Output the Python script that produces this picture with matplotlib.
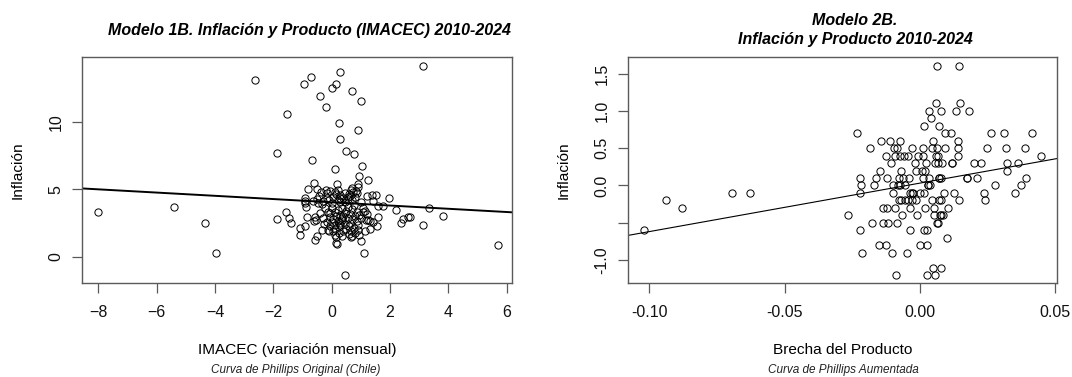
import matplotlib
matplotlib.use("Agg")
import matplotlib.pyplot as plt

plt.rcParams["font.family"] = ["Liberation Sans", "DejaVu Sans"]

# Modelo 1B: IMACEC (variación mensual) vs inflación
imacec = [
    -8.02, -5.42, -4.35, -3.97, -2.64, -1.89, -1.86, -1.52, -1.55, -1.46,
    -1.38, -1.09, -1.08, -0.95, -0.71, -0.90, -0.88, -0.84, -0.90, -0.82,
    -0.67, -0.61, -0.41, -0.21, 0.00, 0.15, 0.30, 0.25, 0.28, 0.10,
    0.50, 0.69, 1.00, 0.89, 0.76, 1.04, 0.93, 1.26, 3.14, 5.69,
    0.45, 1.10, 1.00, 0.17, 0.15, -0.56, -0.52, -0.32, -0.11, 1.97,
    2.22, 2.38, 2.45, 2.60, 2.68, 3.12, 3.35, 3.80, 1.59, 1.75,
    1.60, 1.55, 1.21, 1.38, 1.52, 1.18, 1.24, 1.13, 1.40, 1.31,
    1.14, 0.89, 0.83, 0.90, 0.74, -0.51, -0.37, -0.17, -0.06, 0.17,
    0.23, -0.92, -0.92, -0.51, -0.46, -0.29, -0.17, 0.05, 0.00, 0.28,
    0.40, -0.57, -0.54, -0.23, -0.12, -0.06, -0.17, 0.00, 0.11, -0.12,
    0.11, 0.13, 0.28, 0.28, 0.36, 0.60, 0.65, 0.70, 0.62, -0.20,
    0.11, 0.28, 0.46, 0.57, 1.43, 1.08, 1.06, 0.00, 0.11, 0.20,
    0.35, 0.50, 0.62, 0.70, 0.85, 0.95, 0.40, 0.55, 0.70, 0.85,
    0.30, 0.45, 0.60, 0.75, 0.50, 0.65, 0.80, 0.60, 0.70, 0.90,
    0.25, 0.40, 0.35, 0.15, 0.05, -0.05, 0.20, 0.45, 0.55, 0.70,
    0.80, 1.00, -0.30, -0.25, -0.40, 0.10, 0.25, -0.05, 0.90, 1.00,
    0.80, 0.55, 0.30, -0.45, -0.65, 0.95, 0.65, 0.35, -0.60, -0.35,
    0.15, 0.75, 1.20, 0.45, 0.20, -0.10, 0.62, 0.85, 1.30, 0.05,
]
inflacion_1 = [
    3.36, 3.68, 2.54, 0.27, 13.10, 7.70, 2.84, 10.57, 3.33, 2.89,
    2.54, 2.12, 1.63, 12.80, 13.36, 2.27, 3.68, 2.99, 4.12, 5.04,
    7.21, 5.51, 11.95, 11.11, 12.49, 12.80, 13.73, 9.95, 8.74, 6.54,
    7.83, 12.32, 11.53, 9.41, 7.63, 6.74, 6.00, 5.68, 14.15, 0.89,
    -1.31, 0.27, 1.16, 0.94, 1.48, 1.28, 1.53, 2.00, 1.90, 4.40,
    3.48, 2.52, 2.84, 2.99, 2.99, 2.40, 3.60, 3.06, 3.80, 3.80,
    2.96, 2.30, 4.54, 4.59, 4.57, 2.74, 2.74, 3.43, 2.57, 2.07,
    1.93, 5.38, 4.89, 5.19, 4.79, 5.04, 4.84, 4.72, 4.89, 5.38,
    4.96, 4.35, 3.98, 4.30, 3.98, 4.15, 4.35, 4.47, 3.98, 4.10,
    4.35, 2.99, 2.74, 3.60, 3.36, 2.99, 2.62, 2.62, 2.37, 2.00,
    1.63, 1.04, 3.11, 2.37, 2.74, 4.70, 4.95, 5.10, 4.50, 4.96,
    4.84, 4.59, 4.72, 4.47, 4.15, 3.36, 3.60, 3.60, 3.36, 3.50,
    3.65, 3.40, 3.20, 3.55, 3.30, 3.10, 3.05, 2.90, 2.80, 2.65,
    2.55, 2.45, 2.30, 2.15, 2.10, 1.95, 1.80, 1.70, 1.55, 2.00,
    2.20, 1.90, 2.90, 3.00, 2.80, 3.25, 4.25, 4.05, 4.30, 4.20,
    4.45, 4.10, 2.85, 2.45, 3.25, 2.05, 1.75, 2.30, 2.40, 2.85,
    3.00, 3.70, 4.40, 4.50, 4.15, 1.60, 1.50, 1.55, 2.65, 3.90,
    4.65, 3.85, 3.15, 3.25, 2.70, 4.20, 2.55, 4.75, 2.70, 1.90,
]
modelo1_coef = (4.05, -0.12)  # intercepto, pendiente

# Modelo 2B: brecha del producto vs inflación
brecha = [
    -0.1019, -0.0937, -0.0877, -0.0693, -0.0626, -0.0266, -0.0233, -0.0223, -0.0218, -0.0220,
    -0.0220, -0.0213, -0.0183, -0.0176, -0.0169, -0.0161, -0.0147, -0.0144, -0.0150, -0.0135,
    -0.0135, -0.0127, -0.0125, -0.0122, -0.0120, -0.0117, -0.0111, -0.0107, -0.0105, -0.0101,
    -0.0097, -0.0094, -0.0091, -0.0088, -0.0084, -0.0084, -0.0082, -0.0078, -0.0078, -0.0072,
    -0.0072, -0.0069, -0.0069, -0.0067, -0.0062, -0.0059, -0.0057, -0.0054, -0.0049, -0.0044,
    -0.0042, -0.0038, -0.0035, -0.0035, -0.0031, -0.0029, -0.0025, -0.0019, -0.0016, -0.0013,
    -0.0011, -0.0006, 0.0000, 0.0001, 0.0006, 0.0010, 0.0010, 0.0013, 0.0014, 0.0016,
    0.0019, 0.0020, 0.0023, 0.0025, 0.0026, 0.0016, 0.0025, 0.0028, 0.0034, 0.0035,
    0.0038, 0.0040, 0.0044, 0.0044, 0.0047, 0.0047, 0.0050, 0.0053, 0.0054, 0.0057,
    0.0059, 0.0059, 0.0063, 0.0063, 0.0064, 0.0067, 0.0069, 0.0071, 0.0072, 0.0074,
    0.0076, 0.0077, 0.0079, 0.0079, 0.0082, 0.0084, 0.0090, 0.0094, 0.0094, 0.0101,
    0.0105, 0.0113, 0.0117, 0.0126, 0.0132, 0.0139, 0.0141, 0.0142, 0.0145, 0.0145,
    0.0147, 0.0174, 0.0180, 0.0200, 0.0212, 0.0227, 0.0237, 0.0241, 0.0246, 0.0264,
    0.0277, 0.0310, 0.0319, 0.0321, 0.0321, 0.0351, 0.0363, 0.0373, 0.0388, 0.0392,
    0.0413, 0.0448, -0.0075, -0.0030, 0.0030, 0.0072, 0.0120, 0.0172, -0.0045, 0.0066,
    0.0078, 0.0068, -0.0100,
]
inflacion_2 = [
    -0.6, -0.2, -0.3, -0.1, -0.1, -0.4, 0.7, 0.1, 0.0, -0.1,
    -0.6, -0.9, 0.5, -0.5, 0.0, 0.1, 0.2, 0.6, -0.8, -0.5,
    -0.3, 0.4, -0.8, -0.3, 0.1, -0.5, 0.6, 0.3, -0.9, -0.1,
    0.5, 0.4, -0.3, -1.2, 0.5, -0.5, 0.0, -0.2, 0.1, 0.6,
    0.4, 0.2, -0.2, -0.4, 0.1, 0.4, 0.0, -0.2, -0.9, 0.4,
    0.1, -0.1, -0.3, -0.6, 0.5, -0.2, -0.1, 0.3, 0.2, -0.2,
    -0.4, 0.4, -0.1, -0.8, 0.2, 0.5, 0.4, 0.1, -0.1, 0.8,
    -0.3, 0.2, 0.3, -1.2, -0.8, -0.6, -0.6, 0.0, 1.0, 0.1,
    0.0, 0.9, 0.5, -0.2, 0.6, -1.1, -0.3, -0.4, 0.3, -1.2,
    1.1, 0.4, 1.6, -0.5, 0.5, 0.4, -0.2, 0.8, 0.1, -0.4,
    -0.2, -1.1, 1.0, 0.1, 0.3, -0.4, -0.1, 0.5, 0.7, -0.7,
    -0.3, 0.7, 0.3, -0.1, 1.0, 0.6, 0.5, 0.4, 1.6, -0.2,
    1.1, 0.1, 1.0, 0.3, 0.1, 0.3, -0.1, -0.2, 0.5, 0.7,
    0.0, 0.7, 0.5, 0.3, 0.2, -0.1, 0.3, 0.0, 0.5, 0.1,
    0.7, 0.4, 0.0, -0.1, 0.0, 0.1, 0.3, 0.1, -0.2, -0.5,
    -0.4, 0.3, 0.0,
]
modelo2_coef = (0.032, 6.5)  # intercepto, pendiente

W, H = 1072, 377
BOX_GRAY = "#5a5a5a"


def estilo_r(ax):
    """Caja y ejes al estilo de los gráficos base de R."""
    for sp in ax.spines.values():
        sp.set_color(BOX_GRAY)
        sp.set_linewidth(1.0)
    ax.tick_params(direction="out", length=7, width=0.9, color=BOX_GRAY,
                   labelsize=11.5, labelcolor="#111111")
    ax.tick_params(axis="x", pad=8.5)
    ax.tick_params(axis="y", pad=6)
    for lbl in ax.get_yticklabels():
        lbl.set_rotation(90)
        lbl.set_va("center")


fig = plt.figure(figsize=(W / 100, H / 100), dpi=100)

# --- Panel izquierdo ---
ax1 = fig.add_axes([81.7 / W, 1 - 283.3 / H, (512.3 - 81.7) / W, (283.3 - 57.3) / H])
ax1.plot(imacec, inflacion_1, "o", mfc="none", mec="black", ms=5.2, mew=0.7)
ax1.set_xlim(-8.57, 6.19)
ax1.set_ylim(-1.95, 14.79)
x_lim = ax1.get_xlim()
ax1.plot(x_lim, [modelo1_coef[0] + modelo1_coef[1] * v for v in x_lim],
         color="black", lw=1.4)
ax1.set_xlim(x_lim)
ax1.set_xticks([-8, -6, -4, -2, 0, 2, 4, 6])
ax1.set_yticks([0, 5, 10])
estilo_r(ax1)

# --- Panel derecho ---
ax2 = fig.add_axes([627.7 / W, 1 - 283.3 / H, (1056.5 - 627.7) / W, (283.3 - 57.3) / H])
ax2.plot(brecha, inflacion_2, "o", mfc="none", mec="black", ms=5.2, mew=0.7)
ax2.set_xlim(-0.1079, 0.0504)
ax2.set_ylim(-1.31, 1.717)
x_lim = ax2.get_xlim()
ax2.plot(x_lim, [modelo2_coef[0] + modelo2_coef[1] * v for v in x_lim],
         color="black", lw=0.8)
ax2.set_xlim(x_lim)
ax2.set_xticks([-0.10, -0.05, 0.00, 0.05])
ax2.set_xticklabels(["-0.10", "-0.05", "0.00", "0.05"])
ax2.set_yticks([-1.0, -0.5, 0.0, 0.5, 1.0, 1.5])
ax2.set_yticklabels(["-1.0", "", "0.0", "0.5", "1.0", "1.5"])
estilo_r(ax2)

# --- Textos ---
def px(x, y):
    return x / W, 1 - y / H

tkw = dict(ha="center", va="center", fontweight="bold", style="italic", fontsize=11.5)
fig.text(*px(309, 30), "Modelo 1B. Inflación y Producto (IMACEC) 2010-2024", **tkw)
fig.text(*px(855, 20.5), "Modelo 2B.", **tkw)
fig.text(*px(855, 39.5), "Inflación y Producto 2010-2024", **tkw)

lab_fs = 11.1
fig.text(*px(297, 350), "IMACEC (variación mensual)", ha="center", va="center", fontsize=lab_fs)
fig.text(*px(296, 369.5), "Curva de Phillips Original (Chile)", ha="center", va="center",
         fontsize=8.5, style="italic", color="#222222")
fig.text(*px(843, 350), "Brecha del Producto", ha="center", va="center", fontsize=lab_fs)
fig.text(*px(843, 369.5), "Curva de Phillips Aumentada", ha="center", va="center",
         fontsize=8.5, style="italic", color="#222222")

fig.text(*px(18, 170.5), "Inflación", ha="center", va="center", rotation=90, fontsize=lab_fs)
fig.text(*px(564, 170.5), "Inflación", ha="center", va="center", rotation=90, fontsize=lab_fs)

fig.savefig("out.png", dpi=100)
